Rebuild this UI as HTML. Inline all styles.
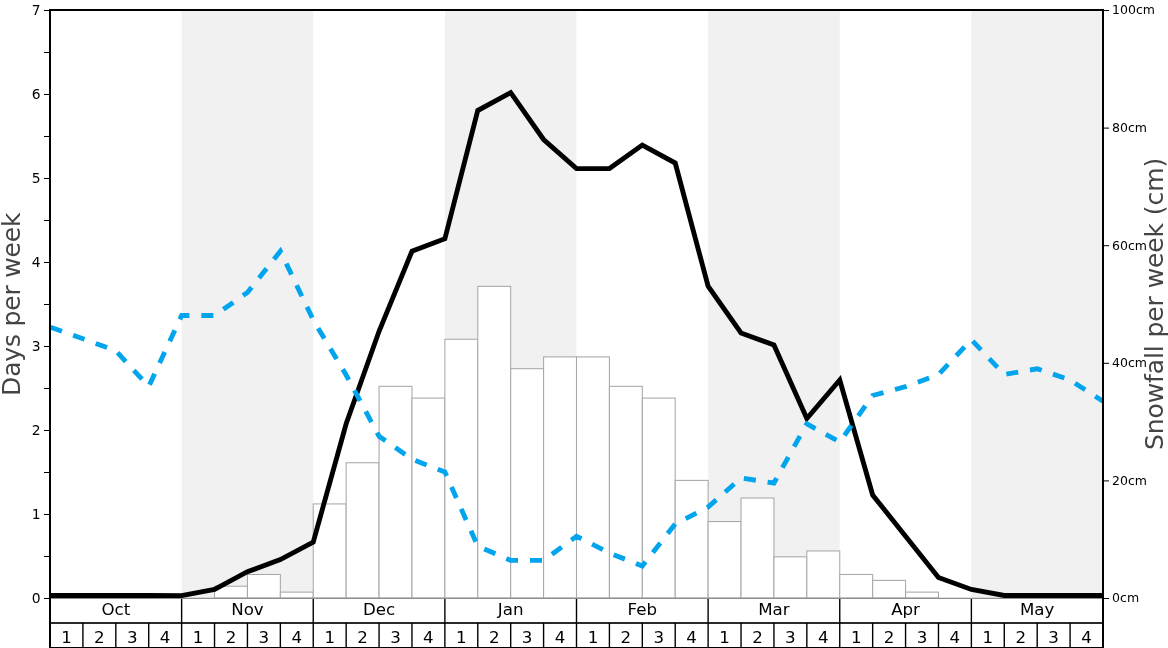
<!DOCTYPE html><html><head><meta charset="utf-8"><title>Snow history</title>
<style>html,body{margin:0;padding:0;background:#fff}svg{display:block}text{font-family:'DejaVu Sans','Liberation Sans',sans-serif}</style></head><body>
<svg width="1168" height="648" viewBox="0 0 1168 648">
<rect width="1168" height="648" fill="#fff"/>
<rect x="181.62" y="10" width="131.62" height="588" fill="#f1f1f1"/>
<rect x="444.88" y="10" width="131.62" height="588" fill="#f1f1f1"/>
<rect x="708.12" y="10" width="131.62" height="588" fill="#f1f1f1"/>
<rect x="971.38" y="10" width="131.62" height="588" fill="#f1f1f1"/>
<g fill="#fff" stroke="#a6a8ad" stroke-width="1.05">
<rect x="214.53" y="586.24" width="32.91" height="11.76"/>
<rect x="247.44" y="574.48" width="32.91" height="23.52"/>
<rect x="280.34" y="592.12" width="32.91" height="5.88"/>
<rect x="313.25" y="503.92" width="32.91" height="94.08"/>
<rect x="346.16" y="462.76" width="32.91" height="135.24"/>
<rect x="379.06" y="386.32" width="32.91" height="211.68"/>
<rect x="411.97" y="398.08" width="32.91" height="199.92"/>
<rect x="444.88" y="339.28" width="32.91" height="258.72"/>
<rect x="477.78" y="286.36" width="32.91" height="311.64"/>
<rect x="510.69" y="368.68" width="32.91" height="229.32"/>
<rect x="543.59" y="356.92" width="32.91" height="241.08"/>
<rect x="576.50" y="356.92" width="32.91" height="241.08"/>
<rect x="609.41" y="386.32" width="32.91" height="211.68"/>
<rect x="642.31" y="398.08" width="32.91" height="199.92"/>
<rect x="675.22" y="480.40" width="32.91" height="117.60"/>
<rect x="708.12" y="521.56" width="32.91" height="76.44"/>
<rect x="741.03" y="498.04" width="32.91" height="99.96"/>
<rect x="773.94" y="556.84" width="32.91" height="41.16"/>
<rect x="806.84" y="550.96" width="32.91" height="47.04"/>
<rect x="839.75" y="574.48" width="32.91" height="23.52"/>
<rect x="872.66" y="580.36" width="32.91" height="17.64"/>
<rect x="905.56" y="592.12" width="32.91" height="5.88"/>
</g>
<line x1="50" x2="1103" y1="598.4" y2="598.4" stroke="#8e8e90" stroke-width="1.1"/>
<polyline points="50.00,595.50 82.91,595.50 115.81,595.50 148.72,595.50 181.62,595.60 214.53,589.50 247.44,571.70 280.34,559.60 313.25,542.10 346.16,423.75 379.06,331.25 411.97,251.25 444.88,238.75 477.78,110.50 510.69,92.60 543.59,139.50 576.50,168.60 609.41,168.60 642.31,145.10 675.22,163.00 708.12,286.25 741.03,333.00 773.94,345.00 806.84,418.50 839.75,380.00 872.66,495.00 905.56,536.15 938.47,577.50 971.38,589.50 1004.28,595.50 1037.19,595.50 1070.09,595.50 1103.00,595.50" fill="none" stroke="#000" stroke-width="4.86" stroke-linejoin="miter" stroke-miterlimit="10"/>
<polyline points="50.00,327.00 82.91,338.75 115.81,350.75 148.72,386.50 181.62,315.50 214.53,315.50 247.44,292.50 280.34,251.20 313.25,320.00 346.16,375.00 379.06,436.25 411.97,459.25 444.88,472.00 477.78,546.25 510.69,560.40 543.59,560.40 576.50,536.25 609.41,553.00 642.31,566.00 675.22,524.00 708.12,507.00 741.03,478.00 773.94,483.00 806.84,423.75 839.75,442.00 872.66,395.50 905.56,386.70 938.47,374.60 971.38,339.70 1004.28,374.50 1037.19,368.75 1070.09,380.00 1103.00,401.25" fill="none" stroke="#00a5ee" stroke-width="4.86" stroke-linejoin="miter" stroke-dasharray="12.08 11.91" stroke-dashoffset="-0.6"/>
<g fill="#000">
<rect x="49" y="9" width="2" height="590"/>
<rect x="1102" y="9" width="2" height="590"/>
<rect x="49" y="9" width="1055" height="2"/>
<rect x="44" y="598" width="5" height="1"/>
<rect x="44" y="556" width="5" height="1"/>
<rect x="44" y="514" width="5" height="1"/>
<rect x="44" y="472" width="5" height="1"/>
<rect x="44" y="430" width="5" height="1"/>
<rect x="44" y="388" width="5" height="1"/>
<rect x="44" y="346" width="5" height="1"/>
<rect x="44" y="304" width="5" height="1"/>
<rect x="44" y="262" width="5" height="1"/>
<rect x="44" y="220" width="5" height="1"/>
<rect x="44" y="178" width="5" height="1"/>
<rect x="44" y="136" width="5" height="1"/>
<rect x="44" y="94" width="5" height="1"/>
<rect x="44" y="52" width="5" height="1"/>
<rect x="44" y="10" width="5" height="1"/>
<rect x="1104" y="598.0" width="5" height="1"/>
<rect x="1104" y="480.4" width="5" height="1"/>
<rect x="1104" y="362.8" width="5" height="1"/>
<rect x="1104" y="245.2" width="5" height="1"/>
<rect x="1104" y="127.6" width="5" height="1"/>
<rect x="1104" y="10.0" width="5" height="1"/>
</g>
<g font-size="13.89" text-anchor="end" fill="#000">
<text x="40.7" y="602.8">0</text>
<text x="40.7" y="518.8">1</text>
<text x="40.7" y="434.8">2</text>
<text x="40.7" y="350.8">3</text>
<text x="40.7" y="266.8">4</text>
<text x="40.7" y="182.8">5</text>
<text x="40.7" y="98.8">6</text>
<text x="40.7" y="14.8">7</text>
</g>
<g font-size="12.5" fill="#000">
<text x="1112.1" y="602.3">0cm</text>
<text x="1112.1" y="484.7">20cm</text>
<text x="1112.1" y="367.1">40cm</text>
<text x="1112.1" y="249.5">60cm</text>
<text x="1112.1" y="131.9">80cm</text>
<text x="1112.1" y="14.3">100cm</text>
</g>
<text transform="translate(20.2,304.3) rotate(-90)" text-anchor="middle" font-size="25" letter-spacing="-0.17" fill="#444">Days per week</text>
<text transform="translate(1163.2,304) rotate(-90)" text-anchor="middle" font-size="25" letter-spacing="-0.09" fill="#444">Snowfall per week (cm)</text>
<g stroke="#000" stroke-width="1.4">
<line x1="50" x2="1103" y1="622.95" y2="622.95" stroke="#2a2a2a" stroke-width="1.9"/>
<line x1="49" x2="1104" y1="647.6" y2="647.6"/>
<line x1="82.91" x2="82.91" y1="622.9" y2="648"/>
<line x1="115.81" x2="115.81" y1="622.9" y2="648"/>
<line x1="148.72" x2="148.72" y1="622.9" y2="648"/>
<line x1="181.62" x2="181.62" y1="599" y2="648"/>
<line x1="214.53" x2="214.53" y1="622.9" y2="648"/>
<line x1="247.44" x2="247.44" y1="622.9" y2="648"/>
<line x1="280.34" x2="280.34" y1="622.9" y2="648"/>
<line x1="313.25" x2="313.25" y1="599" y2="648"/>
<line x1="346.16" x2="346.16" y1="622.9" y2="648"/>
<line x1="379.06" x2="379.06" y1="622.9" y2="648"/>
<line x1="411.97" x2="411.97" y1="622.9" y2="648"/>
<line x1="444.88" x2="444.88" y1="599" y2="648"/>
<line x1="477.78" x2="477.78" y1="622.9" y2="648"/>
<line x1="510.69" x2="510.69" y1="622.9" y2="648"/>
<line x1="543.59" x2="543.59" y1="622.9" y2="648"/>
<line x1="576.50" x2="576.50" y1="599" y2="648"/>
<line x1="609.41" x2="609.41" y1="622.9" y2="648"/>
<line x1="642.31" x2="642.31" y1="622.9" y2="648"/>
<line x1="675.22" x2="675.22" y1="622.9" y2="648"/>
<line x1="708.12" x2="708.12" y1="599" y2="648"/>
<line x1="741.03" x2="741.03" y1="622.9" y2="648"/>
<line x1="773.94" x2="773.94" y1="622.9" y2="648"/>
<line x1="806.84" x2="806.84" y1="622.9" y2="648"/>
<line x1="839.75" x2="839.75" y1="599" y2="648"/>
<line x1="872.66" x2="872.66" y1="622.9" y2="648"/>
<line x1="905.56" x2="905.56" y1="622.9" y2="648"/>
<line x1="938.47" x2="938.47" y1="622.9" y2="648"/>
<line x1="971.38" x2="971.38" y1="599" y2="648"/>
<line x1="1004.28" x2="1004.28" y1="622.9" y2="648"/>
<line x1="1037.19" x2="1037.19" y1="622.9" y2="648"/>
<line x1="1070.09" x2="1070.09" y1="622.9" y2="648"/>
</g>
<rect x="49" y="598" width="2" height="50" fill="#000"/><rect x="1102" y="598" width="2" height="50" fill="#000"/>
<g font-size="16.67" text-anchor="middle" fill="#000">
<text x="115.81" y="615">Oct</text>
<text x="247.44" y="615">Nov</text>
<text x="379.06" y="615">Dec</text>
<text x="510.69" y="615">Jan</text>
<text x="642.31" y="615">Feb</text>
<text x="773.94" y="615">Mar</text>
<text x="905.56" y="615">Apr</text>
<text x="1037.19" y="615">May</text>
<text x="66.45" y="643">1</text>
<text x="99.36" y="643">2</text>
<text x="132.27" y="643">3</text>
<text x="165.17" y="643">4</text>
<text x="198.08" y="643">1</text>
<text x="230.98" y="643">2</text>
<text x="263.89" y="643">3</text>
<text x="296.80" y="643">4</text>
<text x="329.70" y="643">1</text>
<text x="362.61" y="643">2</text>
<text x="395.52" y="643">3</text>
<text x="428.42" y="643">4</text>
<text x="461.33" y="643">1</text>
<text x="494.23" y="643">2</text>
<text x="527.14" y="643">3</text>
<text x="560.05" y="643">4</text>
<text x="592.95" y="643">1</text>
<text x="625.86" y="643">2</text>
<text x="658.77" y="643">3</text>
<text x="691.67" y="643">4</text>
<text x="724.58" y="643">1</text>
<text x="757.48" y="643">2</text>
<text x="790.39" y="643">3</text>
<text x="823.30" y="643">4</text>
<text x="856.20" y="643">1</text>
<text x="889.11" y="643">2</text>
<text x="922.02" y="643">3</text>
<text x="954.92" y="643">4</text>
<text x="987.83" y="643">1</text>
<text x="1020.73" y="643">2</text>
<text x="1053.64" y="643">3</text>
<text x="1086.55" y="643">4</text>
</g>
</svg></body></html>
